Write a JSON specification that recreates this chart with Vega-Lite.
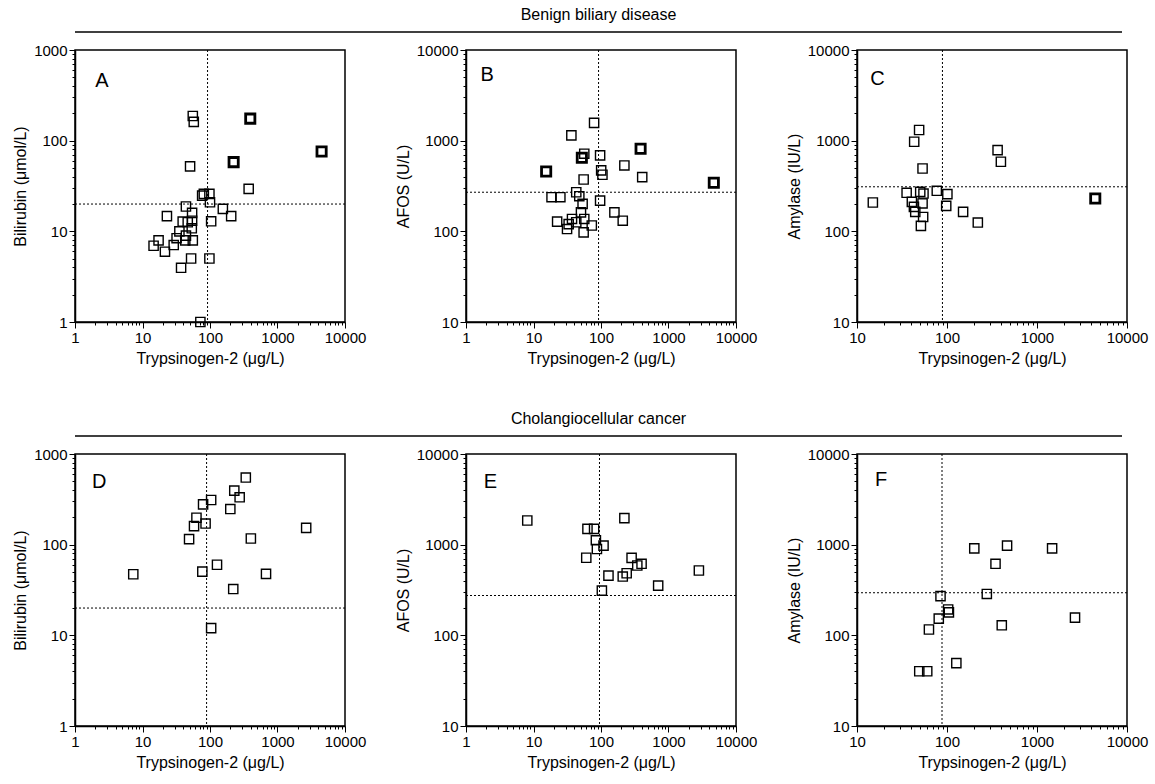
{
  "$schema": "https://vega.github.io/schema/vega-lite/v6.json",
  "background": "white",
  "padding": {"left": 11, "top": 7, "right": 5, "bottom": 5},
  "spacing": 9,
  "datasets": {
    "points": [
      {"panel": "A", "trypsinogen": 55.6, "marker": 187, "duplicate": "no"},
      {"panel": "A", "trypsinogen": 57.5, "marker": 161, "duplicate": "no"},
      {"panel": "A", "trypsinogen": 395, "marker": 175, "duplicate": "yes"},
      {"panel": "A", "trypsinogen": 4500, "marker": 76, "duplicate": "yes"},
      {"panel": "A", "trypsinogen": 224, "marker": 58, "duplicate": "yes"},
      {"panel": "A", "trypsinogen": 50.7, "marker": 52, "duplicate": "no"},
      {"panel": "A", "trypsinogen": 374, "marker": 29.4, "duplicate": "no"},
      {"panel": "A", "trypsinogen": 76.5, "marker": 24.8, "duplicate": "no"},
      {"panel": "A", "trypsinogen": 81, "marker": 25.9, "duplicate": "no"},
      {"panel": "A", "trypsinogen": 98, "marker": 25.9, "duplicate": "no"},
      {"panel": "A", "trypsinogen": 100, "marker": 20.9, "duplicate": "no"},
      {"panel": "A", "trypsinogen": 155, "marker": 17.7, "duplicate": "no"},
      {"panel": "A", "trypsinogen": 206, "marker": 14.7, "duplicate": "no"},
      {"panel": "A", "trypsinogen": 104, "marker": 12.9, "duplicate": "no"},
      {"panel": "A", "trypsinogen": 23, "marker": 14.7, "duplicate": "no"},
      {"panel": "A", "trypsinogen": 44, "marker": 18.8, "duplicate": "no"},
      {"panel": "A", "trypsinogen": 54.3, "marker": 16, "duplicate": "no"},
      {"panel": "A", "trypsinogen": 54.3, "marker": 13.1, "duplicate": "no"},
      {"panel": "A", "trypsinogen": 39.4, "marker": 12.8, "duplicate": "no"},
      {"panel": "A", "trypsinogen": 46.8, "marker": 12.6, "duplicate": "no"},
      {"panel": "A", "trypsinogen": 53.7, "marker": 10.8, "duplicate": "no"},
      {"panel": "A", "trypsinogen": 35.2, "marker": 10, "duplicate": "no"},
      {"panel": "A", "trypsinogen": 44, "marker": 8.96, "duplicate": "no"},
      {"panel": "A", "trypsinogen": 55.6, "marker": 7.95, "duplicate": "no"},
      {"panel": "A", "trypsinogen": 43, "marker": 7.95, "duplicate": "no"},
      {"panel": "A", "trypsinogen": 32, "marker": 8.4, "duplicate": "no"},
      {"panel": "A", "trypsinogen": 29, "marker": 7.06, "duplicate": "no"},
      {"panel": "A", "trypsinogen": 17.3, "marker": 7.95, "duplicate": "no"},
      {"panel": "A", "trypsinogen": 14.6, "marker": 6.94, "duplicate": "no"},
      {"panel": "A", "trypsinogen": 21.5, "marker": 5.96, "duplicate": "no"},
      {"panel": "A", "trypsinogen": 52.5, "marker": 5.02, "duplicate": "no"},
      {"panel": "A", "trypsinogen": 98, "marker": 5.02, "duplicate": "no"},
      {"panel": "A", "trypsinogen": 37.3, "marker": 3.96, "duplicate": "no"},
      {"panel": "A", "trypsinogen": 72, "marker": 1.0, "duplicate": "no"},

      {"panel": "B", "trypsinogen": 79, "marker": 1570, "duplicate": "no"},
      {"panel": "B", "trypsinogen": 36.4, "marker": 1145, "duplicate": "no"},
      {"panel": "B", "trypsinogen": 386, "marker": 815, "duplicate": "yes"},
      {"panel": "B", "trypsinogen": 97, "marker": 689, "duplicate": "no"},
      {"panel": "B", "trypsinogen": 56.5, "marker": 718, "duplicate": "no"},
      {"panel": "B", "trypsinogen": 52, "marker": 649, "duplicate": "yes"},
      {"panel": "B", "trypsinogen": 222, "marker": 533, "duplicate": "no"},
      {"panel": "B", "trypsinogen": 15.4, "marker": 457, "duplicate": "yes"},
      {"panel": "B", "trypsinogen": 100.6, "marker": 470, "duplicate": "no"},
      {"panel": "B", "trypsinogen": 105, "marker": 421, "duplicate": "no"},
      {"panel": "B", "trypsinogen": 408, "marker": 396, "duplicate": "no"},
      {"panel": "B", "trypsinogen": 4690, "marker": 343, "duplicate": "yes"},
      {"panel": "B", "trypsinogen": 55.3, "marker": 373, "duplicate": "no"},
      {"panel": "B", "trypsinogen": 43, "marker": 270, "duplicate": "no"},
      {"panel": "B", "trypsinogen": 47.7, "marker": 244, "duplicate": "no"},
      {"panel": "B", "trypsinogen": 18.5, "marker": 238, "duplicate": "no"},
      {"panel": "B", "trypsinogen": 25, "marker": 238, "duplicate": "no"},
      {"panel": "B", "trypsinogen": 97, "marker": 218, "duplicate": "no"},
      {"panel": "B", "trypsinogen": 53.4, "marker": 201, "duplicate": "no"},
      {"panel": "B", "trypsinogen": 50.5, "marker": 162, "duplicate": "no"},
      {"panel": "B", "trypsinogen": 158, "marker": 162, "duplicate": "no"},
      {"panel": "B", "trypsinogen": 210, "marker": 131, "duplicate": "no"},
      {"panel": "B", "trypsinogen": 22.4, "marker": 128, "duplicate": "no"},
      {"panel": "B", "trypsinogen": 37.2, "marker": 137, "duplicate": "no"},
      {"panel": "B", "trypsinogen": 33.2, "marker": 120, "duplicate": "no"},
      {"panel": "B", "trypsinogen": 56.5, "marker": 137, "duplicate": "no"},
      {"panel": "B", "trypsinogen": 43, "marker": 126, "duplicate": "no"},
      {"panel": "B", "trypsinogen": 31.4, "marker": 106, "duplicate": "no"},
      {"panel": "B", "trypsinogen": 73, "marker": 116, "duplicate": "no"},
      {"panel": "B", "trypsinogen": 55.3, "marker": 97.5, "duplicate": "no"},

      {"panel": "C", "trypsinogen": 49, "marker": 1310, "duplicate": "no"},
      {"panel": "C", "trypsinogen": 43.2, "marker": 972, "duplicate": "no"},
      {"panel": "C", "trypsinogen": 365, "marker": 787, "duplicate": "no"},
      {"panel": "C", "trypsinogen": 397, "marker": 585, "duplicate": "no"},
      {"panel": "C", "trypsinogen": 53.5, "marker": 493, "duplicate": "no"},
      {"panel": "C", "trypsinogen": 77, "marker": 280, "duplicate": "no"},
      {"panel": "C", "trypsinogen": 101, "marker": 257, "duplicate": "no"},
      {"panel": "C", "trypsinogen": 35.6, "marker": 266, "duplicate": "no"},
      {"panel": "C", "trypsinogen": 50.4, "marker": 272, "duplicate": "no"},
      {"panel": "C", "trypsinogen": 54.8, "marker": 261, "duplicate": "no"},
      {"panel": "C", "trypsinogen": 40.7, "marker": 211, "duplicate": "no"},
      {"panel": "C", "trypsinogen": 53.5, "marker": 203, "duplicate": "no"},
      {"panel": "C", "trypsinogen": 42.9, "marker": 186, "duplicate": "no"},
      {"panel": "C", "trypsinogen": 98, "marker": 191, "duplicate": "no"},
      {"panel": "C", "trypsinogen": 15, "marker": 208, "duplicate": "no"},
      {"panel": "C", "trypsinogen": 4440, "marker": 230, "duplicate": "yes"},
      {"panel": "C", "trypsinogen": 151, "marker": 164, "duplicate": "no"},
      {"panel": "C", "trypsinogen": 44.4, "marker": 164, "duplicate": "no"},
      {"panel": "C", "trypsinogen": 54.3, "marker": 144, "duplicate": "no"},
      {"panel": "C", "trypsinogen": 220, "marker": 125, "duplicate": "no"},
      {"panel": "C", "trypsinogen": 51.3, "marker": 115, "duplicate": "no"},

      {"panel": "D", "trypsinogen": 339, "marker": 550, "duplicate": "no"},
      {"panel": "D", "trypsinogen": 229, "marker": 395, "duplicate": "no"},
      {"panel": "D", "trypsinogen": 275, "marker": 333, "duplicate": "no"},
      {"panel": "D", "trypsinogen": 104, "marker": 311, "duplicate": "no"},
      {"panel": "D", "trypsinogen": 79, "marker": 278, "duplicate": "no"},
      {"panel": "D", "trypsinogen": 200, "marker": 247, "duplicate": "no"},
      {"panel": "D", "trypsinogen": 63, "marker": 198, "duplicate": "no"},
      {"panel": "D", "trypsinogen": 86, "marker": 171, "duplicate": "no"},
      {"panel": "D", "trypsinogen": 58, "marker": 160, "duplicate": "no"},
      {"panel": "D", "trypsinogen": 2660, "marker": 153, "duplicate": "no"},
      {"panel": "D", "trypsinogen": 49, "marker": 115, "duplicate": "no"},
      {"panel": "D", "trypsinogen": 403, "marker": 117, "duplicate": "no"},
      {"panel": "D", "trypsinogen": 127, "marker": 60, "duplicate": "no"},
      {"panel": "D", "trypsinogen": 77, "marker": 50.5, "duplicate": "no"},
      {"panel": "D", "trypsinogen": 7.3, "marker": 47.2, "duplicate": "no"},
      {"panel": "D", "trypsinogen": 676, "marker": 47.6, "duplicate": "no"},
      {"panel": "D", "trypsinogen": 221, "marker": 32.4, "duplicate": "no"},
      {"panel": "D", "trypsinogen": 104, "marker": 12, "duplicate": "no"},

      {"panel": "E", "trypsinogen": 8.09, "marker": 1848, "duplicate": "no"},
      {"panel": "E", "trypsinogen": 222, "marker": 1963, "duplicate": "no"},
      {"panel": "E", "trypsinogen": 63, "marker": 1493, "duplicate": "no"},
      {"panel": "E", "trypsinogen": 79, "marker": 1493, "duplicate": "no"},
      {"panel": "E", "trypsinogen": 84, "marker": 1117, "duplicate": "no"},
      {"panel": "E", "trypsinogen": 109, "marker": 975, "duplicate": "no"},
      {"panel": "E", "trypsinogen": 87, "marker": 895, "duplicate": "no"},
      {"panel": "E", "trypsinogen": 60.5, "marker": 717, "duplicate": "no"},
      {"panel": "E", "trypsinogen": 284, "marker": 714, "duplicate": "no"},
      {"panel": "E", "trypsinogen": 399, "marker": 615, "duplicate": "no"},
      {"panel": "E", "trypsinogen": 345, "marker": 589, "duplicate": "no"},
      {"panel": "E", "trypsinogen": 2820, "marker": 519, "duplicate": "no"},
      {"panel": "E", "trypsinogen": 129, "marker": 456, "duplicate": "no"},
      {"panel": "E", "trypsinogen": 240, "marker": 484, "duplicate": "no"},
      {"panel": "E", "trypsinogen": 210, "marker": 445, "duplicate": "no"},
      {"panel": "E", "trypsinogen": 703, "marker": 353, "duplicate": "no"},
      {"panel": "E", "trypsinogen": 103, "marker": 311, "duplicate": "no"},

      {"panel": "F", "trypsinogen": 465, "marker": 975, "duplicate": "no"},
      {"panel": "F", "trypsinogen": 201, "marker": 910, "duplicate": "no"},
      {"panel": "F", "trypsinogen": 1472, "marker": 910, "duplicate": "no"},
      {"panel": "F", "trypsinogen": 346, "marker": 615, "duplicate": "no"},
      {"panel": "F", "trypsinogen": 277, "marker": 286, "duplicate": "no"},
      {"panel": "F", "trypsinogen": 84.7, "marker": 271, "duplicate": "no"},
      {"panel": "F", "trypsinogen": 103, "marker": 193, "duplicate": "no"},
      {"panel": "F", "trypsinogen": 105, "marker": 179, "duplicate": "no"},
      {"panel": "F", "trypsinogen": 81, "marker": 153, "duplicate": "no"},
      {"panel": "F", "trypsinogen": 2644, "marker": 157, "duplicate": "no"},
      {"panel": "F", "trypsinogen": 406, "marker": 129, "duplicate": "no"},
      {"panel": "F", "trypsinogen": 63, "marker": 116, "duplicate": "no"},
      {"panel": "F", "trypsinogen": 127, "marker": 49.3, "duplicate": "no"},
      {"panel": "F", "trypsinogen": 49.2, "marker": 40.2, "duplicate": "no"},
      {"panel": "F", "trypsinogen": 60.3, "marker": 40.2, "duplicate": "no"}
    ],
    "cutoffs": [
      {"panel": "A", "trypsinogen": 92, "marker": 20},
      {"panel": "B", "trypsinogen": 92, "marker": 270},
      {"panel": "C", "trypsinogen": 89, "marker": 310},
      {"panel": "D", "trypsinogen": 89, "marker": 20},
      {"panel": "E", "trypsinogen": 95, "marker": 275},
      {"panel": "F", "trypsinogen": 88, "marker": 295}
    ]
  },
  "vconcat": [
    {
      "width": 1047, "height": 22, "view": {"stroke": null},
      "data": {"values": [{"section": "Benign biliary disease"}]},
      "layer": [
        {"mark": {"type": "rule", "color": "black", "strokeWidth": 1.5},
         "encoding": {"y": {"datum": 0, "type": "quantitative", "scale": {"domain": [0, 1]}, "axis": null}}},
        {"mark": {"type": "text", "font": "Liberation Sans", "fontSize": 16, "baseline": "alphabetic", "dy": -12, "color": "black"},
         "encoding": {"y": {"datum": 0, "type": "quantitative", "scale": {"domain": [0, 1]}, "axis": null}, "text": {"field": "section"}}}
      ]
    },
    {
      "spacing": 27,
      "hconcat": [
        {
          "width": 270, "height": 272,
          "layer": [
            {"data": {"name": "cutoffs"}, "transform": [{"filter": "datum.panel === 'A'"}],
             "mark": {"type": "rule", "color": "black", "strokeWidth": 1, "strokeDash": [2, 2]},
             "encoding": {"x": {"field": "trypsinogen", "type": "quantitative", "scale": {"type": "log", "domain": [1, 10000]}}}},
            {"data": {"name": "cutoffs"}, "transform": [{"filter": "datum.panel === 'A'"}],
             "mark": {"type": "rule", "color": "black", "strokeWidth": 1, "strokeDash": [2, 2]},
             "encoding": {"y": {"field": "marker", "type": "quantitative", "scale": {"type": "log", "domain": [1, 1000]}}}},
            {"data": {"name": "points"}, "transform": [{"filter": "datum.panel === 'A'"}],
             "mark": {"type": "point", "shape": "square", "filled": false, "color": "black", "size": 85, "opacity": 1},
             "encoding": {
               "x": {"field": "trypsinogen", "type": "quantitative", "scale": {"type": "log", "domain": [1, 10000]},
                     "axis": {"title": "Trypsinogen-2 (μg/L)", "values": [1,2,3,4,5,6,7,8,9,10,20,30,40,50,60,70,80,90,100,200,300,400,500,600,700,800,900,1000,2000,3000,4000,5000,6000,7000,8000,9000,10000],
                              "labelExpr": "abs(log(datum.value)/LN10 - round(log(datum.value)/LN10)) < 1e-6 ? format(datum.value, 'd') : ''",
                              "tickSize": {"condition": {"test": "abs(log(datum.value)/LN10 - round(log(datum.value)/LN10)) < 1e-6", "value": 6}, "value": 3}}},
               "y": {"field": "marker", "type": "quantitative", "scale": {"type": "log", "domain": [1, 1000]},
                     "axis": {"title": "Bilirubin (μmol/L)", "values": [1,2,3,4,5,6,7,8,9,10,20,30,40,50,60,70,80,90,100,200,300,400,500,600,700,800,900,1000],
                              "labelExpr": "abs(log(datum.value)/LN10 - round(log(datum.value)/LN10)) < 1e-6 ? format(datum.value, 'd') : ''",
                              "tickSize": {"condition": {"test": "abs(log(datum.value)/LN10 - round(log(datum.value)/LN10)) < 1e-6", "value": 6}, "value": 3}}},
               "strokeWidth": {"field": "duplicate", "type": "nominal", "scale": {"domain": ["no", "yes"], "range": [1.4, 2.8]}, "legend": null}
             }},
            {"data": {"name": "cutoffs"}, "transform": [{"filter": "datum.panel === 'A'"}],
             "mark": {"type": "text", "font": "Liberation Sans", "fontSize": 20, "color": "black"},
             "encoding": {"x": {"datum": 2.5, "type": "quantitative", "scale": {"type": "log", "domain": [1, 10000]}},
                          "y": {"datum": 454, "type": "quantitative", "scale": {"type": "log", "domain": [1, 1000]}},
                          "text": {"field": "panel"}}}
          ]
        },
        {
          "width": 270, "height": 272,
          "layer": [
            {"data": {"name": "cutoffs"}, "transform": [{"filter": "datum.panel === 'B'"}],
             "mark": {"type": "rule", "color": "black", "strokeWidth": 1, "strokeDash": [2, 2]},
             "encoding": {"x": {"field": "trypsinogen", "type": "quantitative", "scale": {"type": "log", "domain": [1, 10000]}}}},
            {"data": {"name": "cutoffs"}, "transform": [{"filter": "datum.panel === 'B'"}],
             "mark": {"type": "rule", "color": "black", "strokeWidth": 1, "strokeDash": [2, 2]},
             "encoding": {"y": {"field": "marker", "type": "quantitative", "scale": {"type": "log", "domain": [10, 10000]}}}},
            {"data": {"name": "points"}, "transform": [{"filter": "datum.panel === 'B'"}],
             "mark": {"type": "point", "shape": "square", "filled": false, "color": "black", "size": 85, "opacity": 1},
             "encoding": {
               "x": {"field": "trypsinogen", "type": "quantitative", "scale": {"type": "log", "domain": [1, 10000]},
                     "axis": {"title": "Trypsinogen-2 (μg/L)", "values": [1,2,3,4,5,6,7,8,9,10,20,30,40,50,60,70,80,90,100,200,300,400,500,600,700,800,900,1000,2000,3000,4000,5000,6000,7000,8000,9000,10000],
                              "labelExpr": "abs(log(datum.value)/LN10 - round(log(datum.value)/LN10)) < 1e-6 ? format(datum.value, 'd') : ''",
                              "tickSize": {"condition": {"test": "abs(log(datum.value)/LN10 - round(log(datum.value)/LN10)) < 1e-6", "value": 6}, "value": 3}}},
               "y": {"field": "marker", "type": "quantitative", "scale": {"type": "log", "domain": [10, 10000]},
                     "axis": {"title": "AFOS (U/L)", "values": [10,20,30,40,50,60,70,80,90,100,200,300,400,500,600,700,800,900,1000,2000,3000,4000,5000,6000,7000,8000,9000,10000],
                              "labelExpr": "abs(log(datum.value)/LN10 - round(log(datum.value)/LN10)) < 1e-6 ? format(datum.value, 'd') : ''",
                              "tickSize": {"condition": {"test": "abs(log(datum.value)/LN10 - round(log(datum.value)/LN10)) < 1e-6", "value": 6}, "value": 3}}},
               "strokeWidth": {"field": "duplicate", "type": "nominal", "scale": {"domain": ["no", "yes"], "range": [1.4, 2.8]}, "legend": null}
             }},
            {"data": {"name": "cutoffs"}, "transform": [{"filter": "datum.panel === 'B'"}],
             "mark": {"type": "text", "font": "Liberation Sans", "fontSize": 20, "color": "black"},
             "encoding": {"x": {"datum": 2.06, "type": "quantitative", "scale": {"type": "log", "domain": [1, 10000]}},
                          "y": {"datum": 5250, "type": "quantitative", "scale": {"type": "log", "domain": [10, 10000]}},
                          "text": {"field": "panel"}}}
          ]
        },
        {
          "width": 270, "height": 272,
          "layer": [
            {"data": {"name": "cutoffs"}, "transform": [{"filter": "datum.panel === 'C'"}],
             "mark": {"type": "rule", "color": "black", "strokeWidth": 1, "strokeDash": [2, 2]},
             "encoding": {"x": {"field": "trypsinogen", "type": "quantitative", "scale": {"type": "log", "domain": [10, 10000]}}}},
            {"data": {"name": "cutoffs"}, "transform": [{"filter": "datum.panel === 'C'"}],
             "mark": {"type": "rule", "color": "black", "strokeWidth": 1, "strokeDash": [2, 2]},
             "encoding": {"y": {"field": "marker", "type": "quantitative", "scale": {"type": "log", "domain": [10, 10000]}}}},
            {"data": {"name": "points"}, "transform": [{"filter": "datum.panel === 'C'"}],
             "mark": {"type": "point", "shape": "square", "filled": false, "color": "black", "size": 85, "opacity": 1},
             "encoding": {
               "x": {"field": "trypsinogen", "type": "quantitative", "scale": {"type": "log", "domain": [10, 10000]},
                     "axis": {"title": "Trypsinogen-2 (μg/L)", "values": [10,20,30,40,50,60,70,80,90,100,200,300,400,500,600,700,800,900,1000,2000,3000,4000,5000,6000,7000,8000,9000,10000],
                              "labelExpr": "abs(log(datum.value)/LN10 - round(log(datum.value)/LN10)) < 1e-6 ? format(datum.value, 'd') : ''",
                              "tickSize": {"condition": {"test": "abs(log(datum.value)/LN10 - round(log(datum.value)/LN10)) < 1e-6", "value": 6}, "value": 3}}},
               "y": {"field": "marker", "type": "quantitative", "scale": {"type": "log", "domain": [10, 10000]},
                     "axis": {"title": "Amylase (IU/L)", "values": [10,20,30,40,50,60,70,80,90,100,200,300,400,500,600,700,800,900,1000,2000,3000,4000,5000,6000,7000,8000,9000,10000],
                              "labelExpr": "abs(log(datum.value)/LN10 - round(log(datum.value)/LN10)) < 1e-6 ? format(datum.value, 'd') : ''",
                              "tickSize": {"condition": {"test": "abs(log(datum.value)/LN10 - round(log(datum.value)/LN10)) < 1e-6", "value": 6}, "value": 3}}},
               "strokeWidth": {"field": "duplicate", "type": "nominal", "scale": {"domain": ["no", "yes"], "range": [1.4, 2.8]}, "legend": null}
             }},
            {"data": {"name": "cutoffs"}, "transform": [{"filter": "datum.panel === 'C'"}],
             "mark": {"type": "text", "font": "Liberation Sans", "fontSize": 20, "color": "black"},
             "encoding": {"x": {"datum": 16.9, "type": "quantitative", "scale": {"type": "log", "domain": [10, 10000]}},
                          "y": {"datum": 4820, "type": "quantitative", "scale": {"type": "log", "domain": [10, 10000]}},
                          "text": {"field": "panel"}}}
          ]
        }
      ]
    },
    {
      "width": 1047, "height": 60, "view": {"stroke": null},
      "data": {"values": [{"section": "Cholangiocellular cancer"}]},
      "layer": [
        {"mark": {"type": "rule", "color": "black", "strokeWidth": 1.5},
         "encoding": {"y": {"datum": 0, "type": "quantitative", "scale": {"domain": [0, 1]}, "axis": null}}},
        {"mark": {"type": "text", "font": "Liberation Sans", "fontSize": 16, "baseline": "alphabetic", "dy": -12, "color": "black"},
         "encoding": {"y": {"datum": 0, "type": "quantitative", "scale": {"domain": [0, 1]}, "axis": null}, "text": {"field": "section"}}}
      ]
    },
    {
      "spacing": 27,
      "hconcat": [
        {
          "width": 270, "height": 272,
          "layer": [
            {"data": {"name": "cutoffs"}, "transform": [{"filter": "datum.panel === 'D'"}],
             "mark": {"type": "rule", "color": "black", "strokeWidth": 1, "strokeDash": [2, 2]},
             "encoding": {"x": {"field": "trypsinogen", "type": "quantitative", "scale": {"type": "log", "domain": [1, 10000]}}}},
            {"data": {"name": "cutoffs"}, "transform": [{"filter": "datum.panel === 'D'"}],
             "mark": {"type": "rule", "color": "black", "strokeWidth": 1, "strokeDash": [2, 2]},
             "encoding": {"y": {"field": "marker", "type": "quantitative", "scale": {"type": "log", "domain": [1, 1000]}}}},
            {"data": {"name": "points"}, "transform": [{"filter": "datum.panel === 'D'"}],
             "mark": {"type": "point", "shape": "square", "filled": false, "color": "black", "size": 85, "opacity": 1},
             "encoding": {
               "x": {"field": "trypsinogen", "type": "quantitative", "scale": {"type": "log", "domain": [1, 10000]},
                     "axis": {"title": "Trypsinogen-2 (μg/L)", "values": [1,2,3,4,5,6,7,8,9,10,20,30,40,50,60,70,80,90,100,200,300,400,500,600,700,800,900,1000,2000,3000,4000,5000,6000,7000,8000,9000,10000],
                              "labelExpr": "abs(log(datum.value)/LN10 - round(log(datum.value)/LN10)) < 1e-6 ? format(datum.value, 'd') : ''",
                              "tickSize": {"condition": {"test": "abs(log(datum.value)/LN10 - round(log(datum.value)/LN10)) < 1e-6", "value": 6}, "value": 3}}},
               "y": {"field": "marker", "type": "quantitative", "scale": {"type": "log", "domain": [1, 1000]},
                     "axis": {"title": "Bilirubin (μmol/L)", "values": [1,2,3,4,5,6,7,8,9,10,20,30,40,50,60,70,80,90,100,200,300,400,500,600,700,800,900,1000],
                              "labelExpr": "abs(log(datum.value)/LN10 - round(log(datum.value)/LN10)) < 1e-6 ? format(datum.value, 'd') : ''",
                              "tickSize": {"condition": {"test": "abs(log(datum.value)/LN10 - round(log(datum.value)/LN10)) < 1e-6", "value": 6}, "value": 3}}},
               "strokeWidth": {"field": "duplicate", "type": "nominal", "scale": {"domain": ["no", "yes"], "range": [1.4, 2.8]}, "legend": null}
             }},
            {"data": {"name": "cutoffs"}, "transform": [{"filter": "datum.panel === 'D'"}],
             "mark": {"type": "text", "font": "Liberation Sans", "fontSize": 20, "color": "black"},
             "encoding": {"x": {"datum": 2.29, "type": "quantitative", "scale": {"type": "log", "domain": [1, 10000]}},
                          "y": {"datum": 492, "type": "quantitative", "scale": {"type": "log", "domain": [1, 1000]}},
                          "text": {"field": "panel"}}}
          ]
        },
        {
          "width": 270, "height": 272,
          "layer": [
            {"data": {"name": "cutoffs"}, "transform": [{"filter": "datum.panel === 'E'"}],
             "mark": {"type": "rule", "color": "black", "strokeWidth": 1, "strokeDash": [2, 2]},
             "encoding": {"x": {"field": "trypsinogen", "type": "quantitative", "scale": {"type": "log", "domain": [1, 10000]}}}},
            {"data": {"name": "cutoffs"}, "transform": [{"filter": "datum.panel === 'E'"}],
             "mark": {"type": "rule", "color": "black", "strokeWidth": 1, "strokeDash": [2, 2]},
             "encoding": {"y": {"field": "marker", "type": "quantitative", "scale": {"type": "log", "domain": [10, 10000]}}}},
            {"data": {"name": "points"}, "transform": [{"filter": "datum.panel === 'E'"}],
             "mark": {"type": "point", "shape": "square", "filled": false, "color": "black", "size": 85, "opacity": 1},
             "encoding": {
               "x": {"field": "trypsinogen", "type": "quantitative", "scale": {"type": "log", "domain": [1, 10000]},
                     "axis": {"title": "Trypsinogen-2 (μg/L)", "values": [1,2,3,4,5,6,7,8,9,10,20,30,40,50,60,70,80,90,100,200,300,400,500,600,700,800,900,1000,2000,3000,4000,5000,6000,7000,8000,9000,10000],
                              "labelExpr": "abs(log(datum.value)/LN10 - round(log(datum.value)/LN10)) < 1e-6 ? format(datum.value, 'd') : ''",
                              "tickSize": {"condition": {"test": "abs(log(datum.value)/LN10 - round(log(datum.value)/LN10)) < 1e-6", "value": 6}, "value": 3}}},
               "y": {"field": "marker", "type": "quantitative", "scale": {"type": "log", "domain": [10, 10000]},
                     "axis": {"title": "AFOS (U/L)", "values": [10,20,30,40,50,60,70,80,90,100,200,300,400,500,600,700,800,900,1000,2000,3000,4000,5000,6000,7000,8000,9000,10000],
                              "labelExpr": "abs(log(datum.value)/LN10 - round(log(datum.value)/LN10)) < 1e-6 ? format(datum.value, 'd') : ''",
                              "tickSize": {"condition": {"test": "abs(log(datum.value)/LN10 - round(log(datum.value)/LN10)) < 1e-6", "value": 6}, "value": 3}}},
               "strokeWidth": {"field": "duplicate", "type": "nominal", "scale": {"domain": ["no", "yes"], "range": [1.4, 2.8]}, "legend": null}
             }},
            {"data": {"name": "cutoffs"}, "transform": [{"filter": "datum.panel === 'E'"}],
             "mark": {"type": "text", "font": "Liberation Sans", "fontSize": 20, "color": "black"},
             "encoding": {"x": {"datum": 2.3, "type": "quantitative", "scale": {"type": "log", "domain": [1, 10000]}},
                          "y": {"datum": 4920, "type": "quantitative", "scale": {"type": "log", "domain": [10, 10000]}},
                          "text": {"field": "panel"}}}
          ]
        },
        {
          "width": 270, "height": 272,
          "layer": [
            {"data": {"name": "cutoffs"}, "transform": [{"filter": "datum.panel === 'F'"}],
             "mark": {"type": "rule", "color": "black", "strokeWidth": 1, "strokeDash": [2, 2]},
             "encoding": {"x": {"field": "trypsinogen", "type": "quantitative", "scale": {"type": "log", "domain": [10, 10000]}}}},
            {"data": {"name": "cutoffs"}, "transform": [{"filter": "datum.panel === 'F'"}],
             "mark": {"type": "rule", "color": "black", "strokeWidth": 1, "strokeDash": [2, 2]},
             "encoding": {"y": {"field": "marker", "type": "quantitative", "scale": {"type": "log", "domain": [10, 10000]}}}},
            {"data": {"name": "points"}, "transform": [{"filter": "datum.panel === 'F'"}],
             "mark": {"type": "point", "shape": "square", "filled": false, "color": "black", "size": 85, "opacity": 1},
             "encoding": {
               "x": {"field": "trypsinogen", "type": "quantitative", "scale": {"type": "log", "domain": [10, 10000]},
                     "axis": {"title": "Trypsinogen-2 (μg/L)", "values": [10,20,30,40,50,60,70,80,90,100,200,300,400,500,600,700,800,900,1000,2000,3000,4000,5000,6000,7000,8000,9000,10000],
                              "labelExpr": "abs(log(datum.value)/LN10 - round(log(datum.value)/LN10)) < 1e-6 ? format(datum.value, 'd') : ''",
                              "tickSize": {"condition": {"test": "abs(log(datum.value)/LN10 - round(log(datum.value)/LN10)) < 1e-6", "value": 6}, "value": 3}}},
               "y": {"field": "marker", "type": "quantitative", "scale": {"type": "log", "domain": [10, 10000]},
                     "axis": {"title": "Amylase (IU/L)", "values": [10,20,30,40,50,60,70,80,90,100,200,300,400,500,600,700,800,900,1000,2000,3000,4000,5000,6000,7000,8000,9000,10000],
                              "labelExpr": "abs(log(datum.value)/LN10 - round(log(datum.value)/LN10)) < 1e-6 ? format(datum.value, 'd') : ''",
                              "tickSize": {"condition": {"test": "abs(log(datum.value)/LN10 - round(log(datum.value)/LN10)) < 1e-6", "value": 6}, "value": 3}}},
               "strokeWidth": {"field": "duplicate", "type": "nominal", "scale": {"domain": ["no", "yes"], "range": [1.4, 2.8]}, "legend": null}
             }},
            {"data": {"name": "cutoffs"}, "transform": [{"filter": "datum.panel === 'F'"}],
             "mark": {"type": "text", "font": "Liberation Sans", "fontSize": 20, "color": "black"},
             "encoding": {"x": {"datum": 18.5, "type": "quantitative", "scale": {"type": "log", "domain": [10, 10000]}},
                          "y": {"datum": 5170, "type": "quantitative", "scale": {"type": "log", "domain": [10, 10000]}},
                          "text": {"field": "panel"}}}
          ]
        }
      ]
    }
  ],
  "config": {
    "view": {"stroke": "black", "strokeWidth": 1.5},
    "axis": {
      "grid": false,
      "domainColor": "black", "domainWidth": 1.5,
      "tickColor": "black", "tickWidth": 1,
      "labelColor": "black", "titleColor": "black",
      "labelFont": "Liberation Sans", "titleFont": "Liberation Sans",
      "labelFontSize": 15, "titleFontSize": 16, "titleFontWeight": "normal",
      "labelPadding": 2, "titlePadding": 5,
      "labelFlush": false, "labelOverlap": false
    }
  }
}
